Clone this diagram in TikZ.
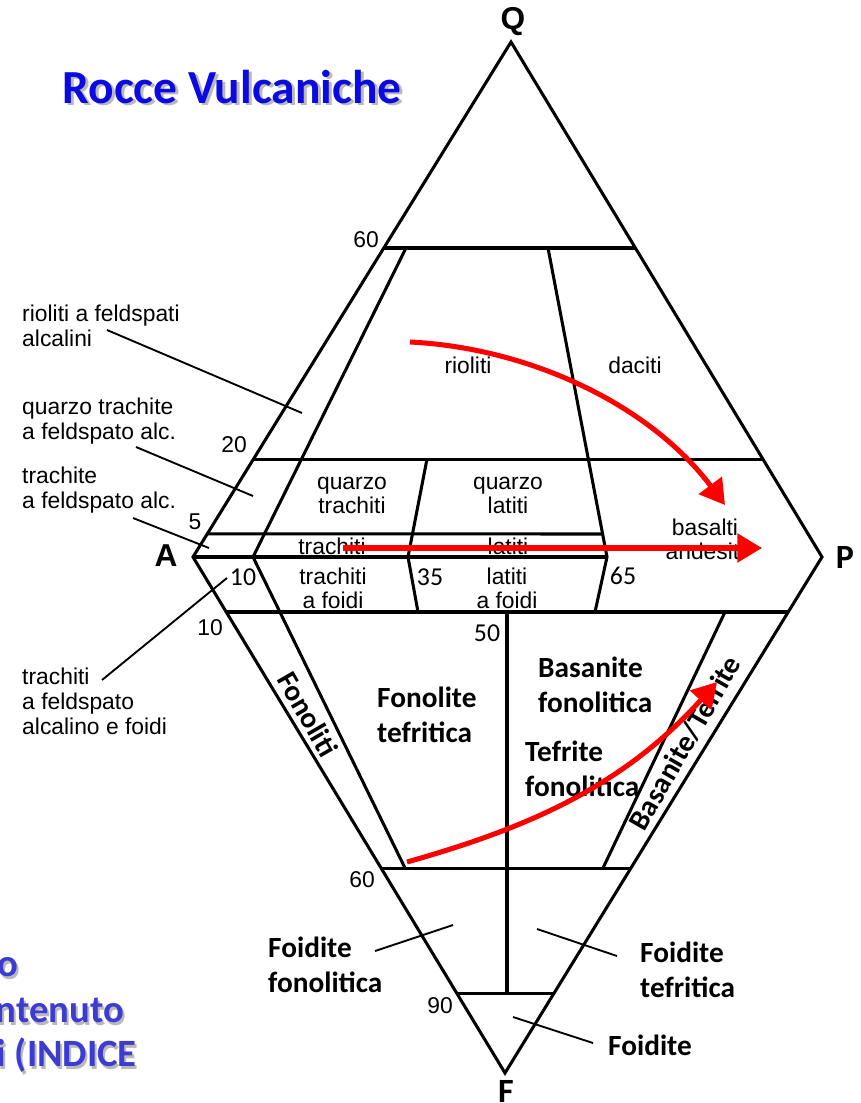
\documentclass[tikz,border=0pt]{standalone}
\usepackage{fontspec}
\setmainfont{Liberation Sans}
\newfontfamily\calibri{Carlito}
\usetikzlibrary{arrows.meta,calc}
\definecolor{titleblue}{RGB}{10,10,225}
\definecolor{noteblue}{RGB}{60,60,210}
\definecolor{shadowgray}{RGB}{185,185,185}
\definecolor{arrred}{RGB}{255,0,0}

\begin{document}
\begin{tikzpicture}[
  x=0.03cm, y=-0.03cm,
  edge/.style={line width=2.6pt},
  lead/.style={line width=1.6pt},
  arr/.style={-{Triangle[length=21pt,width=24pt]}, line width=4.3pt, arrred},
  lbl/.style={font=\fontsize{19.5}{21.3}\selectfont, align=left, inner sep=0pt},
  reg/.style={font=\fontsize{19.5}{20.5}\selectfont, align=center, inner sep=0pt},
  num/.style={font=\fontsize{19.5}{20}\selectfont, inner sep=0pt},
  cnum/.style={font=\calibri\fontsize{22}{24}\selectfont, inner sep=0pt},
  bold/.style={font=\calibri\bfseries\fontsize{25}{29.5}\selectfont, align=left, inner sep=0pt},
  vtx/.style={font=\bfseries\fontsize{27}{30}\selectfont, inner sep=0pt},
  cvtx/.style={font=\calibri\bfseries\fontsize{29}{30}\selectfont, inner sep=0pt},
  title/.style={font=\calibri\bfseries\fontsize{40.5}{42}\selectfont, text=titleblue, inner sep=0pt},
  note/.style={font=\calibri\bfseries\fontsize{33}{36}\selectfont, text=noteblue, inner sep=0pt, anchor=east}
]
\useasboundingbox (0,0) rectangle (860,1103);

% vertices
\coordinate (Q) at (511,42);
\coordinate (A) at (193,557);
\coordinate (P) at (822,557);
\coordinate (F) at (505,1073);

\node[vtx] (lQ) at (513,22) {Q};
\node[vtx] (lA) at (166,556) {A};
\node[cvtx] (lP) at (845,557) {P};
\node[cvtx] (lF) at (506,1091) {F};

% title
\node[title, text=shadowgray] at (235,89) {Rocce Vulcaniche};
\node[title] (title) at (232,87) {Rocce Vulcaniche};

% outline
\draw[edge] (A) -- (Q) -- (P) -- (F) -- cycle;

% upper triangle Q-A-P
\draw[edge] ($(Q)!.4!(A)$) -- ($(Q)!.4!(P)$);
\draw[edge] ($(Q)!.81!(A)$) -- ($(Q)!.81!(P)$);
\draw[edge] ($(Q)!.955!(A)$) -- (603,534);
\draw[edge] (A) -- (607,557);
\draw[edge] (406,248) -- (253,557) -- (405,868);
\draw[edge] (427,459) -- (408,557) -- (418,612);
\draw[edge] (548,248) -- (607,557) -- (595,612);

% lower triangle A-P-F
\draw[edge] ($(A)!.1066!(F)$) -- ($(P)!.1066!(F)$);
\draw[edge] ($(A)!.603!(F)$) -- ($(P)!.603!(F)$);
\draw[edge] ($(A)!.845!(F)$) -- ($(P)!.845!(F)$);
\draw[edge] (507,612) -- (507,993);
\draw[edge] (725,612) -- (603,868);

% scale values
\node[num] (n60a) at (366,240) {60};
\node[num] (n20) at (234,445) {20};
\node[num] (n5) at (195,522) {5};
\node[cnum] (n10a) at (243,577) {10};
\node[cnum] (n35) at (430,577) {35};
\node[cnum] (n65) at (623,576) {65};
\node[num] (n10b) at (210,628) {10};
\node[cnum] (n50) at (487,633) {50};
\node[num] (n60b) at (362,880) {60};
\node[num] (n90) at (440,1006) {90};

% fields
\node[reg] (riol) at (468,365) {rioliti};
\node[reg] (dac) at (635,365) {daciti};
\node[reg] (qtrach) at (352,495) {quarzo\\trachiti};
\node[reg] (qlat) at (508,495) {quarzo\\latiti};
\node[reg] (basand) at (705,539) {basalti\\andesiti};
\node[reg] (trach) at (332,546) {trachiti};
\node[reg] (lat) at (508,546) {latiti};
\node[reg] (trachf) at (333,588) {trachiti\\a foidi};
\node[reg] (latf) at (507,588) {latiti\\a foidi};

\node[bold, anchor=west] (fonteph) at (377,715) {Fonolite\\tefritica};
\node[bold, anchor=west] (basfon) at (538,685) {Basanite\\fonolitica};
\node[bold, anchor=west] (tefon) at (525,769) {Tefrite\\fonolitica};
\node[bold, rotate=-60] (fonoliti) at (308,714) {Fonoliti};
\node[bold, rotate=60] (bastef) at (685,743) {Basanite/Tefrite};

% side labels
\node[lbl, anchor=west] (rfa) at (22,326) {rioliti a feldspati\\alcalini};
\node[lbl, anchor=west] (qtfa) at (22,421) {quarzo trachite\\a feldspato alc.};
\node[lbl, anchor=west] (tfa) at (22,490) {trachite\\a feldspato alc.};
\node[lbl, anchor=west] (tfaf) at (22,701) {trachiti\\a feldspato\\alcalino e foidi};

\node[bold, anchor=west] (foidfon) at (268,965) {Foidite\\fonolitica};
\node[bold, anchor=west] (foidtef) at (640,970) {Foidite\\tefritica};
\node[bold, anchor=west] (foid) at (608,1045) {Foidite};

% leaders
\coordinate (rfa-p) at (107,330);  \coordinate (rfa-q) at (302,413);
\coordinate (qtfa-p) at (136,447); \coordinate (qtfa-q) at (253,496);
\coordinate (tfa-p) at (133,518);  \coordinate (tfa-q) at (209,548);
\coordinate (tfaf-p) at (102,680); \coordinate (tfaf-q) at (227,578);
\coordinate (foidfon-p) at (375,951); \coordinate (foidfon-q) at (453,925);
\coordinate (foidtef-p) at (617,956); \coordinate (foidtef-q) at (537,929);
\coordinate (foid-p) at (593,1043);  \coordinate (foid-q) at (513,1017);
\draw[lead] (rfa-p) -- (rfa-q);
\draw[lead] (qtfa-p) -- (qtfa-q);
\draw[lead] (tfa-p) -- (tfa-q);
\draw[lead] (tfaf-p) -- (tfaf-q);
\draw[lead] (foidfon-p) -- (foidfon-q);
\draw[lead] (foidtef-p) -- (foidtef-q);
\draw[lead] (foid-p) -- (foid-q);

% red trends
\coordinate (r1s) at (410,342); \coordinate (r1e) at (725,505);
\coordinate (r2s) at (343,548); \coordinate (r2e) at (762,548);
\coordinate (r3s) at (407,862); \coordinate (r3e) at (717,682);
\draw[arr] (r1s) .. controls (530,348) and (650,405) .. (r1e);
\draw[arr] (r2s) -- (r2e);
\draw[arr] (r3s) .. controls (520,830) and (620,790) .. (r3e);

% cut note, bottom left
\node[note, text=shadowgray] at (21,970) {o};
\node[note] (note1) at (19,967) {o};
\node[note, text=shadowgray] at (126,1013) {ntenuto};
\node[note] (note2) at (124,1010) {ntenuto};
\node[note, text=shadowgray] at (139,1058) {i (INDICE};
\node[note] (note3) at (137,1055) {i (INDICE};

\end{tikzpicture}
\end{document}
